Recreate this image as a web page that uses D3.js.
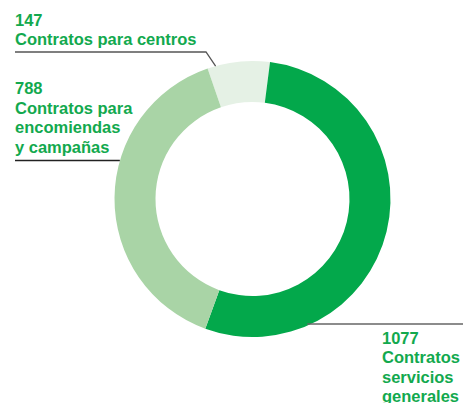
<!DOCTYPE html>
<html>
<head>
<meta charset="utf-8">
<script src="https://cdn.jsdelivr.net/npm/d3@7"></script>
<style>
  html, body { margin: 0; padding: 0; background: #fff; }
  svg { display: block; }
</style>
</head>
<body>
<div id="chart"></div>
<script>
// data, clockwise from the top-left segment
const categories = ['Contratos para centros', 'Contratos servicios generales', 'Contratos para encomiendas y campañas'];
const values = [147, 1077, 788];
const labelLines = [
  ['147', 'Contratos para centros'],
  ['1077', 'Contratos', 'servicios', 'generales'],
  ['788', 'Contratos para', 'encomiendas', 'y campañas']
];
const colors = ['#e5f1e5', '#03a84b', '#a9d4a6'];

const w = 463;
const h = 403;
const cx = 252.5, cy = 199;
const outerR = 138, innerR = 97;
const textColor = '#12a94e';

const svg = d3.select('#chart').append('svg')
  .attr('width', w)
  .attr('height', h);

const startDeg = 341;
const pie = d3.pie()
  .sort(null)
  .startAngle(startDeg * Math.PI / 180)
  .endAngle(startDeg * Math.PI / 180 + 2 * Math.PI);

const arcs = pie(values);
const arc = d3.arc().innerRadius(innerR).outerRadius(outerR);

svg.append('g')
  .attr('transform', `translate(${cx},${cy})`)
  .selectAll('path')
  .data(arcs)
  .enter()
  .append('path')
  .attr('d', arc)
  .attr('fill', (d, i) => colors[i]);

// label layout: text origin, leader line, angle where the leader meets the ring
const labelLayout = [
  { x: 15, y: 25.5, lineY: 52, lineX0: 15, knee: 206, angle: 344.5, stroke: '#555' },
  { x: 382, y: 343.5, lineY: 324, lineX0: 463, knee: null, angle: 156.6, stroke: '#666' },
  { x: 15, y: 94, lineY: 160.5, lineX0: 15, knee: null, angle: 286, stroke: '#222' }
];

function ringPoint(deg) {
  const a = deg * Math.PI / 180;
  return [cx + outerR * Math.sin(a), cy - outerR * Math.cos(a)];
}

labelLayout.forEach((l, i) => {
  const p = ringPoint(l.angle);
  let pts;
  if (l.knee != null) {
    pts = [[l.lineX0, l.lineY], [l.knee, l.lineY], p];
  } else {
    pts = [[l.lineX0, l.lineY], [p[0], l.lineY]];
  }
  svg.append('path')
    .attr('d', d3.line()(pts))
    .attr('fill', 'none')
    .attr('stroke', l.stroke)
    .attr('stroke-width', 1.3);

  const t = svg.append('text')
    .attr('x', l.x)
    .attr('y', l.y)
    .attr('fill', textColor)
    .style('font-family', '"Liberation Sans", Arial, sans-serif')
    .style('font-weight', 'bold')
    .style('font-size', '16.5px');
  labelLines[i].forEach((s, j) => {
    t.append('tspan')
      .attr('x', l.x)
      .attr('dy', j === 0 ? 0 : 19.6)
      .text(s);
  });
});
</script>
</body>
</html>
